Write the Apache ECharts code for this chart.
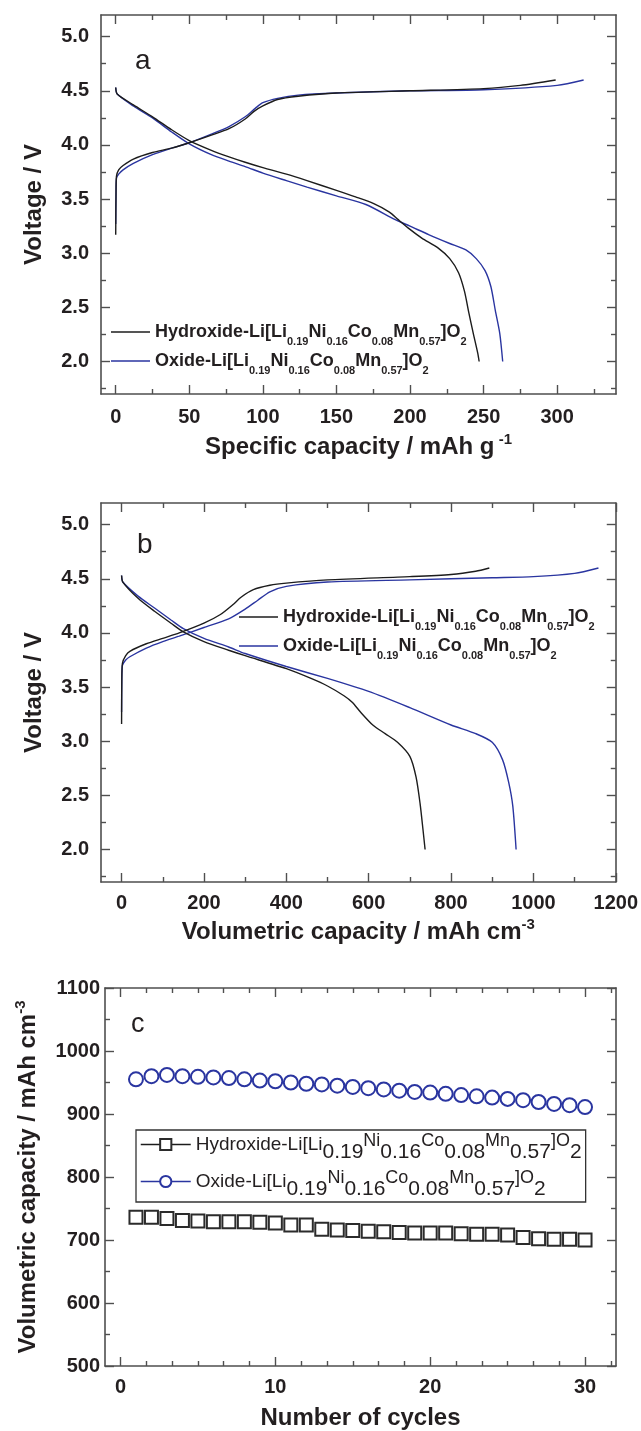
<!DOCTYPE html>
<html><head><meta charset="utf-8">
<script src="https://cdn.jsdelivr.net/npm/echarts@6/dist/echarts.min.js"></script>
<style>html,body{margin:0;padding:0;background:#fff}#c{width:641px;height:1431px}</style>
</head><body><div id="c"></div>
<script>
// ---------- Panel a: specific capacity (mAh/g) vs voltage ----------
const aHydCharge = [[0,3.17],[0.2,3.55],[0.5,3.71],[2,3.77],[5,3.81],[12,3.87],[25,3.93],[38,3.97],[50,4.02],[65,4.09],[77,4.15],[88,4.24],[94,4.31],[100,4.36],[110,4.42],[124,4.45],[150,4.48],[200,4.50],[250,4.52],[275,4.55],[299,4.60]];
const aOxCharge = [[0,3.27],[0.2,3.55],[0.5,3.69],[2,3.73],[5,3.77],[12,3.83],[25,3.91],[38,3.97],[50,4.02],[65,4.10],[77,4.17],[88,4.26],[95,4.34],[100,4.39],[110,4.43],[124,4.46],[150,4.48],[200,4.50],[250,4.51],[300,4.55],[318,4.60]];
const aHydDischarge = [[0,4.53],[1,4.47],[12,4.37],[25,4.26],[38,4.14],[50,4.04],[65,3.95],[77,3.89],[88,3.84],[100,3.79],[116,3.73],[130,3.67],[150,3.58],[163,3.52],[175,3.46],[186,3.38],[192,3.31],[200,3.22],[208,3.14],[219,3.05],[227,2.95],[233,2.82],[237,2.65],[240,2.45],[243,2.26],[246,2.08],[247,2.0]];
const aOxDischarge = [[0,4.53],[1,4.47],[12,4.36],[25,4.25],[38,4.12],[50,4.01],[65,3.91],[77,3.85],[88,3.80],[100,3.74],[116,3.67],[130,3.61],[150,3.53],[170,3.45],[190,3.31],[200,3.25],[213,3.17],[227,3.09],[238,3.03],[245,2.95],[251,2.84],[255,2.69],[258,2.47],[261,2.26],[263,2.0]];
// ---------- Panel b: volumetric capacity (mAh/cm3) vs voltage ----------
const bHydCharge = [[0,3.16],[0.5,3.55],[2,3.72],[10,3.79],[20,3.83],[60,3.90],[100,3.95],[140,4.00],[200,4.09],[240,4.17],[270,4.26],[290,4.33],[320,4.40],[360,4.44],[400,4.46],[500,4.49],[700,4.52],[800,4.54],[860,4.57],[893,4.60]];
const bOxCharge = [[0,3.27],[0.5,3.55],[2,3.70],[10,3.75],[20,3.78],[60,3.86],[100,3.92],[140,3.97],[200,4.05],[260,4.13],[300,4.22],[330,4.30],[360,4.38],[400,4.43],[500,4.47],[700,4.49],[900,4.51],[1000,4.52],[1100,4.55],[1158,4.60]];
const bHydDischarge = [[0,4.53],[3,4.47],[40,4.32],[80,4.20],[120,4.09],[150,4.01],[200,3.92],[260,3.84],[300,3.79],[400,3.67],[460,3.58],[500,3.51],[540,3.42],[560,3.36],[580,3.27],[610,3.15],[640,3.07],[670,2.99],[700,2.86],[715,2.67],[725,2.42],[732,2.18],[737,2.0]];
const bOxDischarge = [[0,4.53],[3,4.47],[40,4.34],[80,4.23],[120,4.12],[150,4.04],[200,3.95],[260,3.87],[300,3.81],[400,3.69],[500,3.58],[600,3.46],[700,3.31],[800,3.15],[860,3.07],[900,2.99],[925,2.83],[940,2.62],[950,2.40],[958,2.0]];
// ---------- Panel c: cycling ----------
const cycles = [1,2,3,4,5,6,7,8,9,10,11,12,13,14,15,16,17,18,19,20,21,22,23,24,25,26,27,28,29,30];
const cHydroxide = [736,736,734,731,730,729,729,729,728,727,724,724,717,716,715,714,713,712,711,711,711,710,709,709,708,704,702,701,701,700];
const cOxide = [955,960,962,960,959,958,957,955,953,952,950,948,947,945,943,941,939,937,935,934,932,930,928,926,924,922,919,916,914,911];
// ---------- Tick values ----------
const aXMajor = [0,50,100,150,200,250,300];
const aXMinor = [25,75,125,175,225,275,325];
const vMajor = [2.0,2.5,3.0,3.5,4.0,4.5,5.0];
const vMinor = [1.75,2.25,2.75,3.25,3.75,4.25,4.75];
const bXMajor = [0,200,400,600,800,1000,1200];
const bXMinor = [100,300,500,700,900,1100];
const cXMajor = [0,10,20,30];
const cXMinor = [5/3,10/3,5,20/3,25/3,35/3,40/3,15,50/3,55/3,65/3,70/3,25,80/3,85/3,95/3];
const cYMajor = [500,600,700,800,900,1000,1100];
const cYMinor = [550,650,750,850,950,1050];
const formulaParts = ['Li[Li','0.19','Ni','0.16','Co','0.08','Mn','0.57',']O','2'];

const FONT = "'Liberation Sans', Arial, Helvetica, sans-serif";
const TXT = '#231f20';
const AX = '#4f4f4f';
const BLACK = '#1c1c1c';
const BLUE = '#2a35a0';

function axes(dim, g, min, max, major, minor, labelCfg) {
  const pos = dim === 'x' ? ['bottom','top'] : ['left','right'];
  const list = [];
  [0,1].forEach(side => {
    [0,1].forEach(isMinor => {
      const primary = side === 0 && isMinor === 0;
      const ax = {
        type: 'value', gridIndex: g, position: pos[side], min: min, max: max,
        axisLine: {show: isMinor === 0, onZero: false, lineStyle: {color: AX, width: 1.6}},
        axisTick: {show: true, inside: true, length: isMinor ? 5 : 9, customValues: isMinor ? minor : major,
                   lineStyle: {color: AX, width: 1.4}},
        axisLabel: {show: false},
        splitLine: {show: false}, minorTick: {show: false}, axisPointer: {show: false}
      };
      if (primary && labelCfg) {
        ax.axisLabel = Object.assign({show: true, customValues: major, color: TXT, fontSize: 20,
          fontWeight: 'bold', fontFamily: FONT, formatter: v => String(v)}, labelCfg.label);
        ax.name = labelCfg.name;
        ax.nameLocation = 'middle';
        ax.nameGap = labelCfg.nameGap;
        ax.nameTextStyle = {color: TXT, fontSize: 24, fontWeight: 'bold', fontFamily: FONT,
          rich: {
            m: {color: TXT, fontSize: 24, fontWeight: 'bold', fontFamily: FONT, lineHeight: 30, verticalAlign: 'middle'},
            sup: {color: TXT, fontSize: 15, fontWeight: 'bold', fontFamily: FONT, lineHeight: labelCfg.supLH || 10, verticalAlign: 'top'}
          }};
      }
      list.push(ax);
    });
  });
  return list;
}

const v1 = v => v.toFixed(1);
const xAxis = [].concat(
  axes('x', 0, -10, 340, aXMajor, aXMinor, {label: {margin: 13}, name: '{m|Specific capacity / mAh g}{sup| -1}', nameGap: 38}),
  axes('x', 1, -50, 1200, bXMajor, bXMinor, {label: {margin: 11}, name: '{m|Volumetric capacity / mAh cm}{sup|-3}', nameGap: 35, supLH: 16}),
  axes('x', 2, -1, 32, cXMajor, cXMinor, {label: {margin: 11}, name: 'Number of cycles', nameGap: 40})
);
const yAxis = [].concat(
  axes('y', 0, 1.7, 5.2, vMajor, vMinor, {label: {margin: 12, formatter: v1}, name: 'Voltage / V', nameGap: 55}),
  axes('y', 1, 1.7, 5.2, vMajor, vMinor, {label: {margin: 12, formatter: v1}, name: 'Voltage / V', nameGap: 55}),
  axes('y', 2, 500, 1100, cYMajor, cYMinor, {label: {margin: 5}, name: '{m|Volumetric capacity / mAh cm}{sup|-3}', nameGap: 62, supLH: 12})
);

function curve(name, g, data, color) {
  return {name: name, type: 'line', xAxisIndex: g*4, yAxisIndex: g*4, data: data, showSymbol: false, symbol: 'none',
    smooth: 0.25, lineStyle: {color: color, width: 1.4}, itemStyle: {color: color}, z: color === BLUE ? 2 : 3, silent: true};
}
const series = [
  curve('aHyd', 0, aHydCharge, BLACK), curve('aHydD', 0, aHydDischarge, BLACK),
  curve('aOx', 0, aOxCharge, BLUE), curve('aOxD', 0, aOxDischarge, BLUE),
  curve('bHyd', 1, bHydCharge, BLACK), curve('bHydD', 1, bHydDischarge, BLACK),
  curve('bOx', 1, bOxCharge, BLUE), curve('bOxD', 1, bOxDischarge, BLUE),
  {name: 'cHyd', type: 'line', xAxisIndex: 8, yAxisIndex: 8, data: cycles.map((c, i) => [c, cHydroxide[i]]),
   symbol: 'emptyRect', symbolSize: 13, lineStyle: {opacity: 0, color: BLACK, width: 1.5},
   itemStyle: {color: '#2b2b2b', borderWidth: 1.8}, silent: true},
  {name: 'cOx', type: 'line', xAxisIndex: 8, yAxisIndex: 8, data: cycles.map((c, i) => [c, cOxide[i]]),
   symbol: 'emptyCircle', symbolSize: 14, lineStyle: {opacity: 0, color: BLUE, width: 1.5},
   itemStyle: {color: BLUE, borderWidth: 1.8}, silent: true}
];

// legend label builders
function richLabel(prefix, tags) {
  return '{m|' + prefix + '-}' + formulaParts.map((p, i) => '{' + tags[i] + '|' + p + '}').join('');
}
const abTags = ['m','s','m','s','m','s','m','s','m','s'];
const cTags = ['m','s','e','s','e','s','e','s','e','s'];
const names = {aHyd: 'Hydroxide', aOx: 'Oxide', bHyd: 'Hydroxide', bOx: 'Oxide', cHyd: 'Hydroxide', cOx: 'Oxide'};
const boldRich = {
  m: {fontFamily: FONT, fontWeight: 'bold', fontSize: 18, color: TXT, lineHeight: 24, verticalAlign: 'middle'},
  s: {fontFamily: FONT, fontWeight: 'bold', fontSize: 11, color: TXT, lineHeight: 24, verticalAlign: 'middle', padding: [0, 0, -20, 0]}
};
function abLegend(name, color, left, top) {
  return {
    data: [{name: name, icon: 'rect', itemStyle: {color: color, borderWidth: 0}}],
    orient: 'vertical', left: left, top: top, padding: 0, itemWidth: 39, itemHeight: 1.5,
    selectedMode: false,
    formatter: n => richLabel(names[n], abTags),
    textStyle: {rich: boldRich, fontFamily: FONT, fontSize: 18, lineHeight: 24}
  };
}
const legend = [
  abLegend('aHyd', BLACK, 111, 320),
  abLegend('aOx', BLUE, 111, 349),
  abLegend('bHyd', BLACK, 239, 605),
  abLegend('bOx', BLUE, 239, 634),
  {
    data: [{name: 'cHyd', lineStyle: {opacity: 1, width: 1.5, color: BLACK}},
           {name: 'cOx', lineStyle: {opacity: 1, width: 1.5, color: BLUE}}],
    orient: 'vertical', left: 136, top: 1130, padding: [2, 4, 2, 4], itemGap: 6, itemWidth: 50, itemHeight: 14,
    borderColor: '#333', borderWidth: 1.3, selectedMode: false,
    formatter: n => richLabel(names[n], cTags),
    textStyle: {fontFamily: FONT, fontSize: 19, lineHeight: 24, rich: {
      m: {fontFamily: FONT, fontSize: 19, color: TXT, lineHeight: 24, verticalAlign: 'middle'},
      s: {fontFamily: FONT, fontSize: 21, color: TXT, lineHeight: 24, verticalAlign: 'middle', padding: [0, 0, -16, 0]},
      e: {fontFamily: FONT, fontSize: 18, color: TXT, lineHeight: 24, verticalAlign: 'middle', padding: [-7, 0, 0, 0]}
    }}
  }
];

const graphic = [
  {type: 'text', left: 135, top: 47, style: {text: 'a', font: "28px " + FONT, fill: TXT}},
  {type: 'text', left: 137, top: 531, style: {text: 'b', font: "28px " + FONT, fill: TXT}},
  {type: 'text', left: 131, top: 1011, style: {text: 'c', font: "27px " + FONT, fill: TXT}}
];

const chart = echarts.init(document.getElementById('c'), null, {renderer: 'canvas', devicePixelRatio: 1});
chart.setOption({
  animation: false,
  backgroundColor: '#fff',
  grid: [
    {left: 101, top: 15, width: 515, height: 379},
    {left: 101, top: 503, width: 515, height: 379},
    {left: 105, top: 988, width: 511, height: 381}
  ],
  xAxis: xAxis, yAxis: yAxis, series: series, legend: legend, graphic: graphic
});
</script></body></html>
